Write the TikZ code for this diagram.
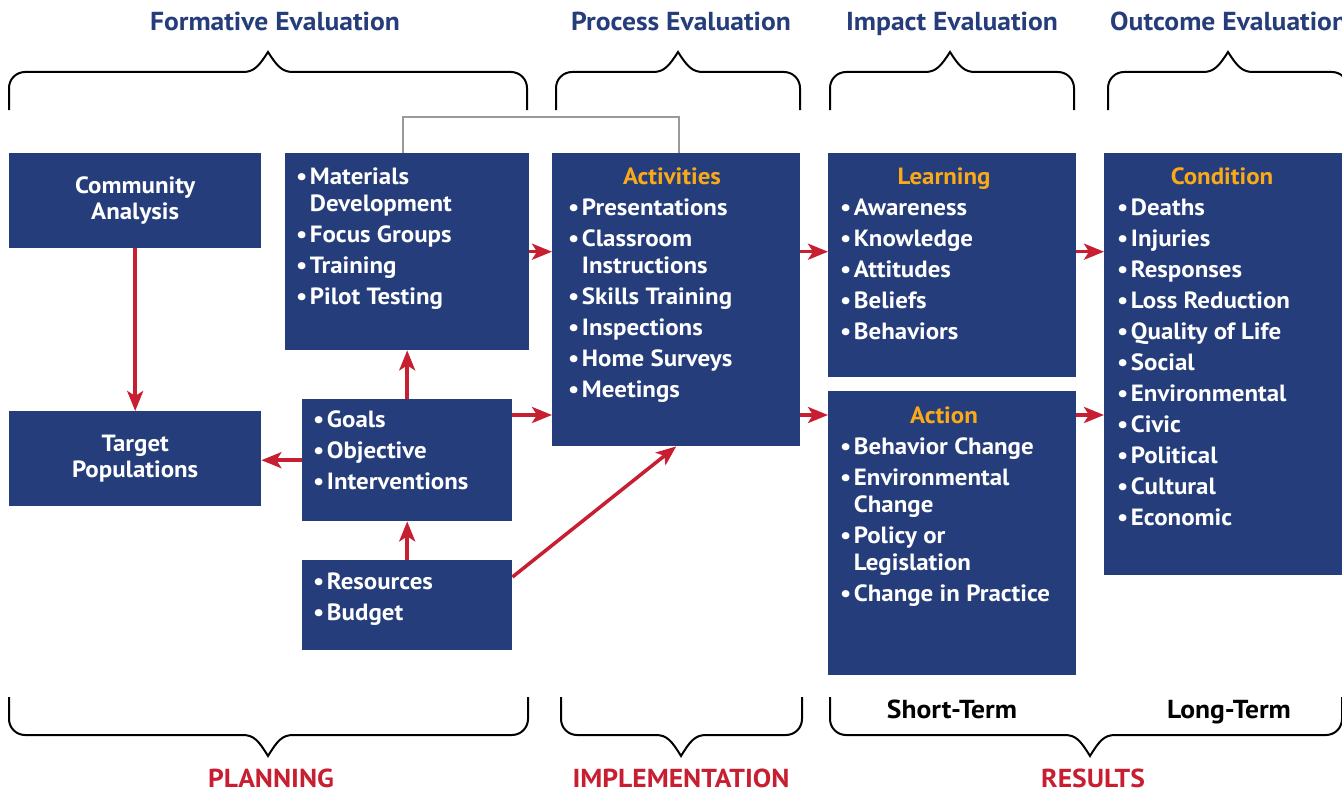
\documentclass[tikz,border=0pt]{standalone}
\usepackage{fontspec}
\setmainfont{PT Sans}[FakeStretch=1.06]
\usetikzlibrary{positioning,arrows.meta}

\definecolor{boxblue}{RGB}{37,61,123}
\definecolor{headorange}{RGB}{250,170,24}
\definecolor{flowred}{RGB}{200,30,50}

\newcommand{\itm}{\textbullet\hspace{2.5pt}}
\newcommand{\cnt}{\hphantom{\textbullet\hspace{2.5pt}}}
% left x, tip x, right x, end y, line y, tip y
\newcommand{\Brace}[6]{
    \draw[brace, rounded corners=16pt] (#2-25,#5) -- (#1,#5) -- (#1,#4);
    \draw[brace, rounded corners=16pt] (#2+25,#5) -- (#3,#5) -- (#3,#4);
    \draw[brace] (#2-25,#5) .. controls (#2-14,#5) and (#2-9,{#5+0.3*(#6-#5)}) .. (#2,#6)
        .. controls (#2+9,{#5+0.3*(#6-#5)}) and (#2+14,#5) .. (#2+25,#5);
}

\begin{document}
\begin{tikzpicture}[x=1pt, y=-1pt,
    box/.style={fill=boxblue, inner sep=0pt, anchor=north west},
    boxtext/.style={text=white, font=\bfseries\fontsize{23.5}{27}\selectfont, align=left, inner sep=0pt, anchor=north west},
    boxhead/.style={text=headorange, font=\bfseries\fontsize{23.5}{27}\selectfont, inner sep=0pt, anchor=north},
    evalhead/.style={text=boxblue, font=\bfseries\fontsize{26}{30}\selectfont, inner sep=0pt, anchor=base},
    phase/.style={text=flowred, font=\bfseries\fontsize{26}{30}\selectfont, inner sep=0pt, anchor=base},
    term/.style={text=black, font=\bfseries\fontsize{26}{30}\selectfont, inner sep=0pt, anchor=base},
    flow/.style={-{Stealth[length=20pt, width=16pt, inset=5pt]}, flowred, line width=3.5pt},
    feedback/.style={draw=gray!80, line width=2pt},
    brace/.style={black, line width=2pt},
]
    \useasboundingbox (0,0) rectangle (1342,792);

    % headings and braces
    \node[evalhead] (formative) at (275,31) {Formative Evaluation};
    \node[evalhead] (process) at (681,31) {Process Evaluation};
    \node[evalhead] (impact) at (952,31) {Impact Evaluation};
    \node[evalhead, anchor=base west] (outcome) at (1110,31) {Outcome Evaluation};
    \Brace{9}{268}{527}{110}{72}{52}
    \Brace{556}{678}{800}{110}{72}{52}
    \Brace{830}{950}{1074}{110}{72}{52}
    \Brace{1108}{1228}{1348}{110}{72}{52}

    \Brace{9}{268}{528}{697}{735}{756}
    \Brace{561}{681}{802}{697}{735}{756}
    \Brace{830}{1090}{1342}{697}{735}{756}
    \node[phase] (planning) at (271,787) {PLANNING};
    \node[phase] (implementation) at (681,787) {IMPLEMENTATION};
    \node[phase] (results) at (1093,787) {RESULTS};
    \node[term] (short) at (952,718) {Short-Term};
    \node[term] (long) at (1229,718) {Long-Term};

    % boxes
    \node[box, minimum width=252pt, minimum height=95pt, text=white, align=center,
        font=\bfseries\fontsize{23.5}{26}\selectfont] (comm) at (9,153) {Community\\Analysis};
    \node[box, minimum width=252pt, minimum height=95pt, text=white, align=center,
        font=\bfseries\fontsize{23.5}{26}\selectfont] (target) at (9,411) {Target\\Populations};
    \node[box, minimum width=244pt, minimum height=197pt] (mat) at (285,153) {};
    \node[box, minimum width=210pt, minimum height=122pt] (goals) at (302,399) {};
    \node[box, minimum width=210pt, minimum height=90pt] (res) at (302,560) {};
    \node[box, minimum width=248pt, minimum height=293pt] (act) at (552,153) {};
    \node[box, minimum width=248pt, minimum height=224pt] (learn) at (828,153) {};
    \node[box, minimum width=248pt, minimum height=284pt] (action) at (828,391) {};
    \node[box, minimum width=250pt, minimum height=422pt] (cond) at (1104,153) {};

    % box texts
    \node[boxtext] (mat-list) at (296,168) {\itm Materials\\ \cnt Development\\[4pt]
        \itm Focus Groups\\[4pt] \itm Training\\[4pt] \itm Pilot Testing};
    \node[boxtext] (goals-list) at (313,411) {\itm Goals\\[4pt] \itm Objective\\[4pt] \itm Interventions};
    \node[boxtext] (res-list) at (313,573) {\itm Resources\\[4pt] \itm Budget};
    \node[boxhead] (act-head) at (672,168) {Activities};
    \node[boxtext] (act-list) at (568,199) {\itm Presentations\\[4pt] \itm Classroom\\ \cnt Instructions\\[4pt]
        \itm Skills Training\\[4pt] \itm Inspections\\[4pt] \itm Home Surveys\\[4pt] \itm Meetings};
    \node[boxhead] (learn-head) at (944,168) {Learning};
    \node[boxtext] (learn-list) at (840,199) {\itm Awareness\\[4pt] \itm Knowledge\\[4pt] \itm Attitudes\\[4pt]
        \itm Beliefs\\[4pt] \itm Behaviors};
    \node[boxhead] (action-head) at (944,407) {Action};
    \node[boxtext] (action-list) at (840,438) {\itm Behavior Change\\[4pt] \itm Environmental\\ \cnt Change\\[4pt]
        \itm Policy or\\ \cnt Legislation\\[4pt] \itm Change in Practice};
    \node[boxhead] (cond-head) at (1222,168) {Condition};
    \node[boxtext] (cond-list) at (1117,199) {\itm Deaths\\[4pt] \itm Injuries\\[4pt] \itm Responses\\[4pt]
        \itm Loss Reduction\\[4pt] \itm Quality of Life\\[4pt] \itm Social\\[4pt] \itm Environmental\\[4pt]
        \itm Civic\\[4pt] \itm Political\\[4pt] \itm Cultural\\[4pt] \itm Economic};

    % connectors
    \draw[feedback] ([xshift=-4pt]mat.north) -- ++(0,-36) -| ([xshift=3pt]act.north);
    \coordinate (lower) at ([yshift=-16pt]goals.north east);
    \coordinate (resout) at ([yshift=-17pt]res.north east);
    \draw[flow] (comm) -- (target);
    \draw[flow] (goals.west) -- (goals.west -| target.east);
    \draw[flow] (goals) -- (mat);
    \draw[flow] (res) -- (goals);
    \draw[flow] (mat.east) -- (mat.east -| act.west);
    \draw[flow] (lower) -- (lower -| act.west);
    \draw[flow] (resout) -- (act.south);
    \draw[flow] (act.east |- mat.east) -- (learn.west |- mat.east);
    \draw[flow] (act.east |- lower) -- (action.west |- lower);
    \draw[flow] (learn.east |- mat.east) -- (cond.west |- mat.east);
    \draw[flow] (action.east |- lower) -- (cond.west |- lower);
\end{tikzpicture}
\end{document}
